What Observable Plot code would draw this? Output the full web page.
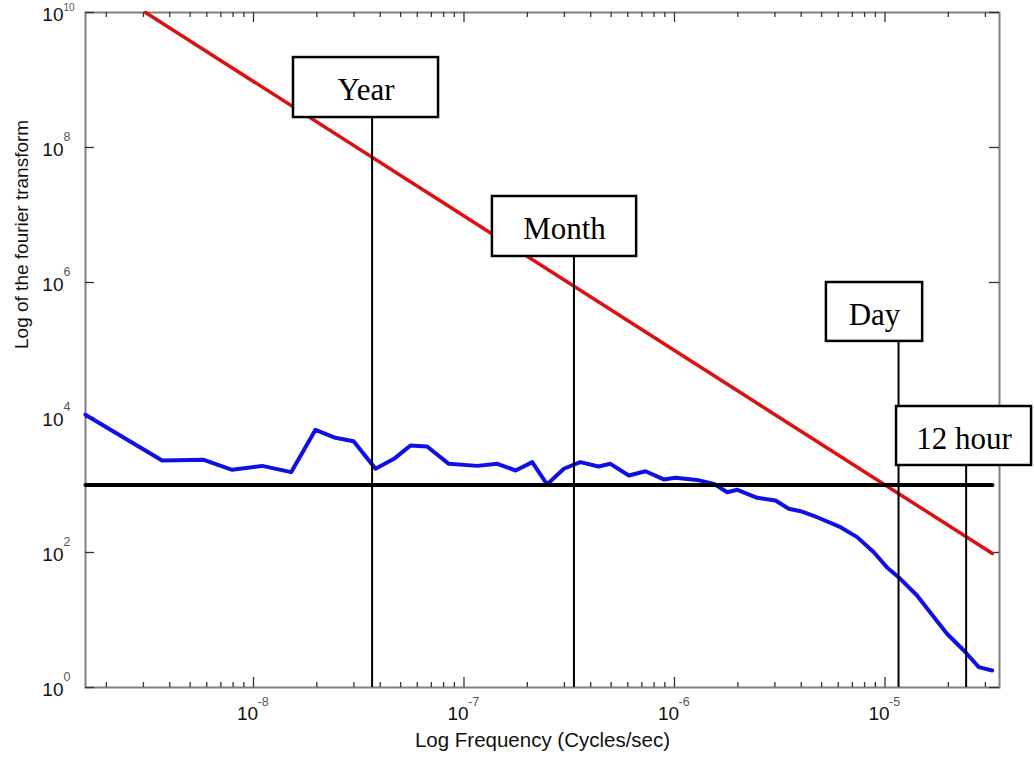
<!DOCTYPE html>
<html><head><meta charset="utf-8">
<script src="https://cdn.jsdelivr.net/npm/d3@7"></script>
<script src="https://cdn.jsdelivr.net/npm/@observablehq/plot@0.6"></script>
<style>body{margin:0;background:#fff;} #chart svg{overflow:visible;}</style>
</head><body><div id="chart"></div>
<script>
// Spectrum (blue)
const freq = [1.59e-9, 3.68e-9, 5.81e-9, 7.92e-9, 1.10e-8, 1.51e-8, 1.97e-8, 2.45e-8, 2.99e-8, 3.80e-8,
  4.65e-8, 5.57e-8, 6.68e-8, 8.47e-8, 1.156e-7, 1.44e-7, 1.76e-7, 2.11e-7, 2.48e-7, 2.98e-7,
  3.57e-7, 4.36e-7, 4.96e-7, 6.07e-7, 7.28e-7, 8.89e-7, 1.01e-6, 1.28e-6, 1.54e-6, 1.78e-6,
  1.99e-6, 2.47e-6, 3.02e-6, 3.49e-6, 3.97e-6, 4.76e-6, 6.15e-6, 7.38e-6, 8.85e-6, 1.02e-5,
  1.16e-5, 1.42e-5, 1.71e-5, 1.97e-5, 2.37e-5, 2.79e-5, 3.23e-5];
const power = [1.1e4, 2310, 2360, 1680, 1920, 1550, 6570, 5000, 4460, 1740,
  2440, 3850, 3720, 2060, 1920, 2060, 1640, 2180, 1020, 1740,
  2180, 1880, 2060, 1380, 1600, 1210, 1280, 1190, 1040, 782,
  849, 646, 589, 444, 409, 333, 237, 169, 101, 60.6,
  43.1, 23.1, 11.0, 6.25, 3.53, 2.0, 1.79];
// Red reference line (slope -2)
const redFreq = [3.07e-9, 3.24e-5];
const redValue = [1e10, 96.6];
// Black horizontal level
const levelFreq = [1.592e-9, 3.24e-5];
const levelValue = [1000, 1000];
// Period annotations
const periodLabels = ["Year", "Month", "Day", "12 hour"];
const periodFreq = [3.66e-8, 3.33e-7, 1.16e-5, 2.43e-5];
const boxFreqLeft = [1.549e-8, 1.365e-7, 5.27e-6, 1.135e-5];
const boxFreqRight = [7.57e-8, 6.61e-7, 1.51e-5, 4.97e-5];
const boxValueBottom = [2.78e8, 2.43e6, 1.34e5, 1945];
const boxValueTop = [2.15e9, 1.88e7, 1e6, 1.455e4];
// Axes
const xDomain = [1.592e-9, 3.50e-5];
const yDomain = [1, 1e10];
const xMajor = [1e-8, 1e-7, 1e-6, 1e-5];
const xExponents = ["-8", "-7", "-6", "-5"];
const xMinor = [2e-9,3e-9,4e-9,5e-9,6e-9,7e-9,8e-9,9e-9,
  2e-8,3e-8,4e-8,5e-8,6e-8,7e-8,8e-8,9e-8,
  2e-7,3e-7,4e-7,5e-7,6e-7,7e-7,8e-7,9e-7,
  2e-6,3e-6,4e-6,5e-6,6e-6,7e-6,8e-6,9e-6,
  2e-5,3e-5];
const yMajor = [1, 1e2, 1e4, 1e6, 1e8, 1e10];
const yExponents = ["0", "2", "4", "6", "8", "10"];
const xLabel = "Log Frequency (Cycles/sec)";
const yLabel = "Log of the fourier transform";

const W = 1034, Hh = 759, mL = 85, mR = 35, mT = 12, mB = 72;
const PH = Hh - mT - mB, PW = W - mL - mR;
const idx = d3.range(freq.length);
const ann = d3.range(periodLabels.length);
const sans = "Liberation Sans, Arial, Helvetica, sans-serif";
const tickColor = "#333";
const yLow = yMajor.slice(0, -1), yTop = yMajor.slice(-1);

const chart = Plot.plot({
  width: W, height: Hh,
  marginLeft: mL, marginRight: mR, marginTop: mT, marginBottom: mB,
  x: {type: "log", domain: xDomain, axis: null},
  y: {type: "log", domain: yDomain, axis: null},
  marks: [
    Plot.frame({stroke: "#808080", strokeWidth: 2}),
    // bottom ticks
    Plot.ruleX(xMajor, {x: d => d, insetTop: PH - 10, stroke: tickColor, strokeWidth: 1.3}),
    Plot.ruleX(xMinor, {x: d => d, insetTop: PH - 5, stroke: tickColor, strokeWidth: 1.3}),
    // top ticks
    Plot.ruleX(xMajor, {x: d => d, insetBottom: PH - 10, stroke: tickColor, strokeWidth: 1.3}),
    Plot.ruleX(xMinor, {x: d => d, insetBottom: PH - 5, stroke: tickColor, strokeWidth: 1.3}),
    // left / right ticks
    Plot.ruleY(yMajor, {y: d => d, insetRight: PW - 9, stroke: tickColor, strokeWidth: 1.3}),
    Plot.ruleY(yMajor, {y: d => d, insetLeft: PW - 10, stroke: tickColor, strokeWidth: 1.3}),
    // red line
    Plot.line(d3.range(redFreq.length), {x: i => redFreq[i], y: i => redValue[i], stroke: "#e01010", strokeWidth: 3.5}),
    // blue spectrum
    Plot.line(idx, {x: i => freq[i], y: i => power[i], stroke: "#1010e6", strokeWidth: 4, strokeLinejoin: "round"}),
    // black level
    Plot.line(d3.range(levelFreq.length), {x: i => levelFreq[i], y: i => levelValue[i], stroke: "black", strokeWidth: 4}),
    // period lines
    Plot.ruleX(ann, {x: i => periodFreq[i], y1: 1, y2: i => boxValueBottom[i], stroke: "black", strokeWidth: 2}),
    Plot.rect(ann, {x1: i => boxFreqLeft[i], x2: i => boxFreqRight[i], y1: i => boxValueBottom[i], y2: i => boxValueTop[i],
      fill: "white", stroke: "black", strokeWidth: 2.5}),
    Plot.text(ann, {x: i => Math.sqrt(boxFreqLeft[i] * boxFreqRight[i]), y: i => Math.sqrt(boxValueBottom[i] * boxValueTop[i]),
      text: i => periodLabels[i], fontFamily: "Liberation Serif, Times New Roman, serif", fontSize: 31, fill: "black", dy: 3}),
    // x tick labels
    Plot.text(xMajor, {x: d => d, frameAnchor: "bottom", text: () => "10", dx: -6, dy: 32, fontSize: 19, fontFamily: sans, fill: "#111"}),
    Plot.text(xMajor, {x: d => d, frameAnchor: "bottom", text: (d, i) => xExponents[i], textAnchor: "start", dx: 4, dy: 18, fontSize: 12.5, fontFamily: sans, fill: "#555"}),
    // y tick labels
    Plot.text(yMajor, {y: d => d, frameAnchor: "left", text: () => "10", textAnchor: "end", dx: -22, dy: 2, fontSize: 19, fontFamily: sans, fill: "#111"}),
    Plot.text(yLow, {y: d => d, frameAnchor: "left", text: (d, i) => yExponents[i], textAnchor: "start", dx: -22, dy: -11, fontSize: 12.5, fontFamily: sans, fill: "#555"}),
    Plot.text(yTop, {y: d => d, frameAnchor: "left", text: () => yExponents[yExponents.length - 1], textAnchor: "start", dx: -22, dy: -5, fontSize: 10, fontFamily: sans, fill: "#555"}),
    // axis labels
    Plot.text([xLabel], {frameAnchor: "bottom", text: d => d, dy: 59, fontSize: 20.5, fontFamily: sans, fill: "#111"}),
    Plot.text([yLabel], {frameAnchor: "left", text: d => d, rotate: -90, dx: -64, dy: -1, fontSize: 19, fontFamily: sans, fill: "#111"})
  ]
});
document.getElementById("chart").appendChild(chart);
</script>
</body></html>
